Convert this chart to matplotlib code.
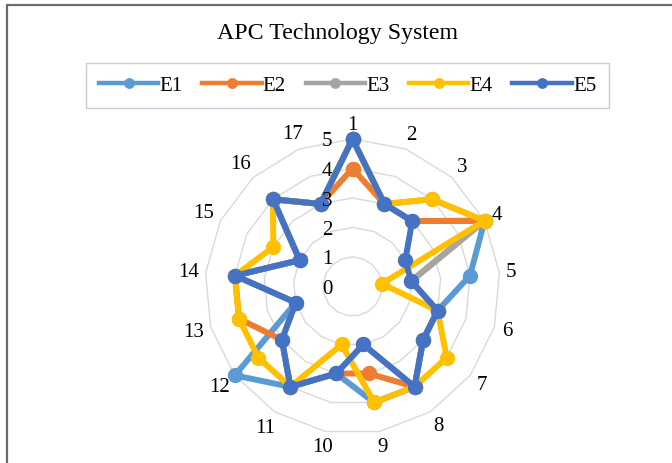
import numpy as np
import matplotlib
matplotlib.use("Agg")
import matplotlib.pyplot as plt
from matplotlib.lines import Line2D
from matplotlib.patches import Rectangle

# ---- data -------------------------------------------------------------
categories = [str(i) for i in range(1, 18)]
series_names = ["E1", "E2", "E3", "E4", "E5"]
e1 = [5, 3, 3, 5, 4, 3, 3, 4, 4, 3, 4, 5, 2, 4, 2, 4, 3]
e2 = [4, 3, 3, 5, 2, 3, 3, 4, 3, 3, 4, 3, 4, 4, 2, 4, 3]
e3 = [5, 3, 4, 5, 2, 3, 3, 4, 2, 3, 4, 3, 2, 4, 2, 4, 3]
e4 = [5, 3, 4, 5, 1, 3, 4, 4, 4, 2, 4, 4, 4, 4, 3, 4, 3]
e5 = [5, 3, 3, 2, 2, 3, 3, 4, 2, 3, 4, 3, 2, 4, 2, 4, 3]
r_ticks = [0, 1, 2, 3, 4, 5]
title = "APC Technology System"

colors = ["#5B9BD5", "#ED7D31", "#A5A5A5", "#FFC000", "#4472C4"]
serif = ["Liberation Serif", "DejaVu Serif"]

W, H, DPI = 672, 464, 100
fig = plt.figure(figsize=(W / DPI, H / DPI), dpi=DPI)
fig.patch.set_facecolor("white")

# chart-area frame (top and left edges visible)
fig.add_artist(Rectangle((6.5 / W, -0.2), 2.0, 1.2 - 5.5 / H,
                         transform=fig.transFigure, fill=False,
                         edgecolor="#6b6b6b", linewidth=1.6))

# ---- radar axes -------------------------------------------------------
cx, cy, R = 352.5, 287.5, 147.5
ax = fig.add_axes([(cx - R) / W, 1 - (cy + R) / H, 2 * R / W, 2 * R / H],
                  projection="polar")
ax.set_theta_zero_location("N")
ax.set_theta_direction(-1)
ax.set_ylim(0, max(r_ticks))
ax.set_xticks([])
ax.set_yticks([])
ax.grid(False)
ax.spines["polar"].set_visible(False)
ax.patch.set_alpha(0)

n = len(categories)
theta = np.arange(n) * 2 * np.pi / n
theta_closed = np.append(theta, theta[0])

# polygonal grid rings
for v in r_ticks[1:]:
    ax.plot(theta_closed, [v] * (n + 1), color="#d9d9d9", lw=1.0,
            zorder=1, clip_on=False)

# radial value labels
for v in r_ticks:
    ax.annotate(str(v), xy=(0, v), xytext=(-20, -2), textcoords="offset pixels",
                ha="right", va="center", fontsize=15, family=serif,
                color="#000000", annotation_clip=False, zorder=6)

# category labels outside the outer ring
px_per_unit = R / max(r_ticks)
for t, lab in zip(theta, categories):
    w = 10 * len(lab)
    h = 16
    off = 6 + (w / 2) * abs(np.sin(t)) + (h / 2) * abs(np.cos(t))
    ax.text(t, max(r_ticks) + off / px_per_unit, lab, ha="center", va="center",
            fontsize=15, family=serif, clip_on=False)

# series
all_series = [e1, e2, e3, e4, e5]
for i, (name, vals, c) in enumerate(zip(series_names, all_series, colors)):
    v = np.append(vals, vals[0])
    ax.plot(theta_closed, v, color=c, lw=4.3, marker="o", markersize=10,
            markerfacecolor=c, markeredgecolor=c, solid_joinstyle="round",
            clip_on=False, zorder=3 + i * 0.1, label=name)

# ---- title & legend ---------------------------------------------------
fig.text(337.5 / W, 1 - 33 / H, title, ha="center", va="center",
         fontsize=17.2, family=serif)

handles = [Line2D([0], [0], color=c, lw=3.2, marker="o", markersize=6.8,
                  markerfacecolor=c, markeredgecolor=c)
           for c in colors]
leg = fig.legend(handles, series_names, loc="center",
                 bbox_to_anchor=(347.5 / W, 1 - 86.5 / H), ncol=5,
                 prop={"family": serif, "size": 15},
                 frameon=True, fancybox=False, handlelength=2.85,
                 handletextpad=0.05, columnspacing=0.95, borderpad=0.6,
                 borderaxespad=0)
leg.get_frame().set_edgecolor("#bfbfbf")
leg.get_frame().set_linewidth(1.0)

fig.savefig("out.png", dpi=DPI, facecolor="white")
